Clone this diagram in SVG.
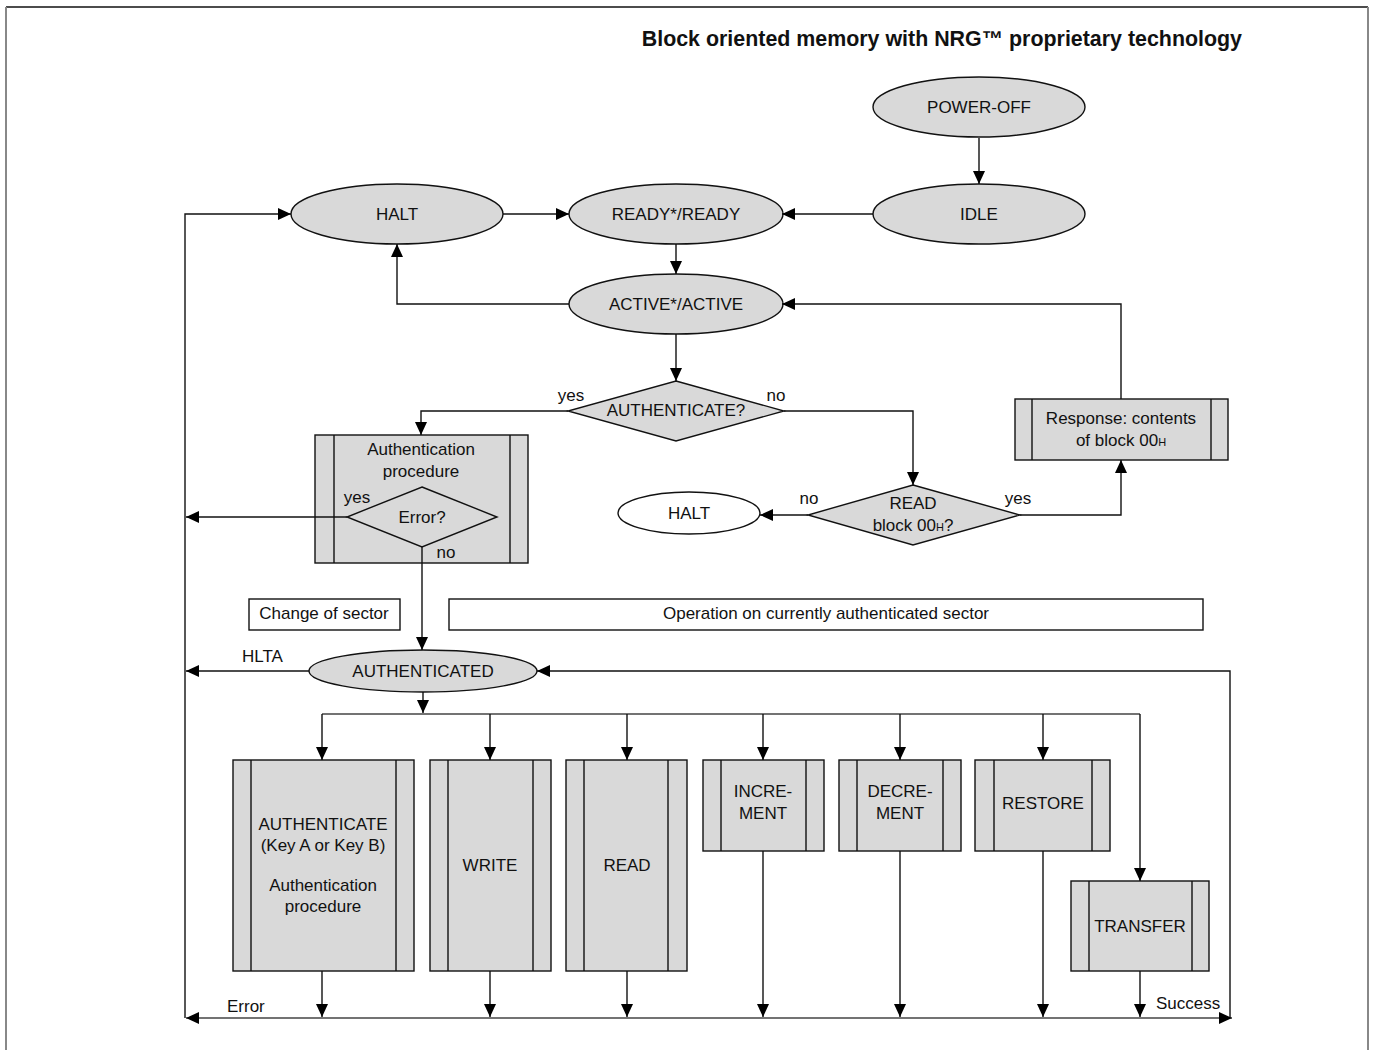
<svg xmlns="http://www.w3.org/2000/svg" width="1373" height="1050" viewBox="0 0 1373 1050">
<style>
text{font-family:"Liberation Sans",Arial,sans-serif;font-size:17px;fill:#111;text-anchor:middle}
.l{text-anchor:start}
.sh{fill:#d9d9d9;stroke:#111;stroke-width:1.4}
.wh{fill:#fff;stroke:#111;stroke-width:1.4}
.in{stroke:#111;stroke-width:1.4;fill:none}
.c{fill:none;stroke:#111;stroke-width:1.4}
.b{fill:none;stroke:#444;stroke-width:1.7}
.sub{font-size:11px}
</style>
<defs>
<marker id="a" viewBox="0 0 13 12" refX="13" refY="6" markerWidth="13" markerHeight="12" markerUnits="userSpaceOnUse" orient="auto">
<path d="M0,0 L13,6 L0,12 z" fill="#000"/>
</marker>
<marker id="as" viewBox="0 0 13 12" refX="13" refY="6" markerWidth="13" markerHeight="12" markerUnits="userSpaceOnUse" orient="auto-start-reverse">
<path d="M0,0 L13,6 L0,12 z" fill="#000"/>
</marker>
</defs>
<rect width="1373" height="1050" fill="#fff"/>
<g id="frame">
<line x1="6" y1="7" x2="1368" y2="7" stroke="#111" stroke-width="1.5"/>
<line x1="6" y1="7" x2="6" y2="1050" stroke="#888" stroke-width="2"/>
<line x1="1368" y1="7" x2="1368" y2="1050" stroke="#888" stroke-width="2"/>
</g>
<text x="1242" y="46" style="font-weight:bold;font-size:21.4px;text-anchor:end">Block oriented memory with NRG™ proprietary technology</text>

<g id="power-off"><ellipse class="sh" cx="979" cy="107" rx="106" ry="30"/><text x="979" y="113">POWER-OFF</text></g>
<g id="idle"><ellipse class="sh" cx="979" cy="214" rx="106" ry="30"/><text x="979" y="220">IDLE</text></g>
<g id="halt"><ellipse class="sh" cx="397" cy="214" rx="106" ry="30"/><text x="397" y="220">HALT</text></g>
<g id="ready"><ellipse class="sh" cx="676" cy="214" rx="107" ry="30"/><text x="676" y="220">READY*/READY</text></g>
<g id="active"><ellipse class="sh" cx="676" cy="304" rx="107" ry="30"/><text x="676" y="310">ACTIVE*/ACTIVE</text></g>
<g id="authenticate-q"><polygon class="sh" points="676,381 784,411 676,441 568,411"/><text x="676" y="416">AUTHENTICATE?</text></g>
<g id="response"><rect class="sh" x="1015" y="399" width="213" height="61"/><path class="in" d="M1032,399 V460 M1211,399 V460"/><text x="1121" y="424">Response: contents</text><text x="1121" y="446">of block 00<tspan class="sub">H</tspan></text></g>
<g id="read-q"><polygon class="sh" points="913,485 1020,515 913,545 808,515"/><text x="913" y="509">READ</text><text x="913" y="531">block 00<tspan class="sub">H</tspan>?</text></g>
<g id="halt2"><ellipse class="wh" cx="689" cy="513" rx="71" ry="21"/><text x="689" y="519">HALT</text></g>
<g id="auth-proc"><rect class="sh" x="315" y="435" width="213" height="128"/><path class="in" d="M334,435 V563 M510,435 V563"/><text x="421" y="455">Authentication</text><text x="421" y="477">procedure</text>
<polygon class="sh" points="422,487 497,517 422,547 347,517"/><text x="422" y="523">Error?</text></g>
<g id="change-sector"><rect class="wh" x="249" y="599" width="151" height="31"/><text x="324" y="619">Change of sector</text></g>
<g id="operation"><rect class="wh" x="449" y="599" width="754" height="31"/><text x="826" y="619">Operation on currently authenticated sector</text></g>
<g id="authenticated"><ellipse class="sh" cx="423" cy="671" rx="114" ry="21"/><text x="423" y="677">AUTHENTICATED</text></g>
<g id="op-authenticate"><rect class="sh" x="233" y="760" width="181" height="211"/><path class="in" d="M251,760 V971 M396,760 V971"/><text x="323" y="830">AUTHENTICATE</text><text x="323" y="851">(Key A or Key B)</text><text x="323" y="891">Authentication</text><text x="323" y="912">procedure</text></g>
<g id="op-write"><rect class="sh" x="430" y="760" width="121" height="211"/><path class="in" d="M448,760 V971 M533,760 V971"/><text x="490" y="871">WRITE</text></g>
<g id="op-read"><rect class="sh" x="566" y="760" width="121" height="211"/><path class="in" d="M584,760 V971 M668,760 V971"/><text x="627" y="871">READ</text></g>
<g id="op-increment"><rect class="sh" x="703" y="760" width="121" height="91"/><path class="in" d="M721,760 V851 M806,760 V851"/><text x="763" y="797">INCRE-</text><text x="763" y="819">MENT</text></g>
<g id="op-decrement"><rect class="sh" x="839" y="760" width="122" height="91"/><path class="in" d="M857,760 V851 M943,760 V851"/><text x="900" y="797">DECRE-</text><text x="900" y="819">MENT</text></g>
<g id="op-restore"><rect class="sh" x="975" y="760" width="135" height="91"/><path class="in" d="M994,760 V851 M1092,760 V851"/><text x="1043" y="809">RESTORE</text></g>
<g id="op-transfer"><rect class="sh" x="1071" y="881" width="138" height="90"/><path class="in" d="M1089,881 V971 M1192,881 V971"/><text x="1140" y="932">TRANSFER</text></g>

<g id="connectors">
<path class="c" d="M979,138 V184" marker-end="url(#a)"/>
<path class="c" d="M873,214 H782" marker-end="url(#a)"/>
<path class="c" d="M503,214 H569" marker-end="url(#a)"/>
<path class="c" d="M676,244 V274" marker-end="url(#a)"/>
<path class="c" d="M569,304 H397 V244" marker-end="url(#a)"/>
<path class="c" d="M185,1018 V214 H291" marker-end="url(#a)"/>
<path class="c" d="M1121,399 V304 H782" marker-end="url(#a)"/>
<path class="c" d="M676,334 V381" marker-end="url(#a)"/>
<path class="c" d="M568,411 H421 V435" marker-end="url(#a)"/>
<path class="c" d="M784,411 H913 V485" marker-end="url(#a)"/>
<path class="c" d="M808,515 H760" marker-end="url(#a)"/>
<path class="c" d="M1020,515 H1121 V460" marker-end="url(#a)"/>
<path class="c" d="M347,517 H186" marker-end="url(#a)"/>
<path class="c" d="M422,547 V650" marker-end="url(#a)"/>
<path class="c" d="M309,671 H186" marker-end="url(#a)"/>
<path class="c" d="M1230,1018 V671 H537" marker-end="url(#a)"/>
<path class="c" d="M423,692 V713" marker-end="url(#a)"/>
<path class="b" d="M322,714 H1140"/>
<path class="c" d="M322,714 V760" marker-end="url(#a)"/>
<path class="c" d="M490,714 V760" marker-end="url(#a)"/>
<path class="c" d="M627,714 V760" marker-end="url(#a)"/>
<path class="c" d="M763,714 V760" marker-end="url(#a)"/>
<path class="c" d="M900,714 V760" marker-end="url(#a)"/>
<path class="c" d="M1043,714 V760" marker-end="url(#a)"/>
<path class="c" d="M1140,714 V881" marker-end="url(#a)"/>
<path class="c" d="M322,971 V1017" marker-end="url(#a)"/>
<path class="c" d="M490,971 V1017" marker-end="url(#a)"/>
<path class="c" d="M627,971 V1017" marker-end="url(#a)"/>
<path class="c" d="M763,851 V1017" marker-end="url(#a)"/>
<path class="c" d="M900,851 V1017" marker-end="url(#a)"/>
<path class="c" d="M1043,851 V1017" marker-end="url(#a)"/>
<path class="c" d="M1140,971 V1017" marker-end="url(#a)"/>
<path class="b" d="M186,1018 H1232" marker-start="url(#as)" marker-end="url(#as)"/>
<text x="571" y="401">yes</text>
<text x="776" y="401">no</text>
<text x="357" y="503">yes</text>
<text x="446" y="558">no</text>
<text x="809" y="504">no</text>
<text x="1018" y="504">yes</text>
<text class="l" x="242" y="662">HLTA</text>
<text class="l" x="227" y="1012">Error</text>
<text class="l" x="1156" y="1009">Success</text>
</g>
</svg>
